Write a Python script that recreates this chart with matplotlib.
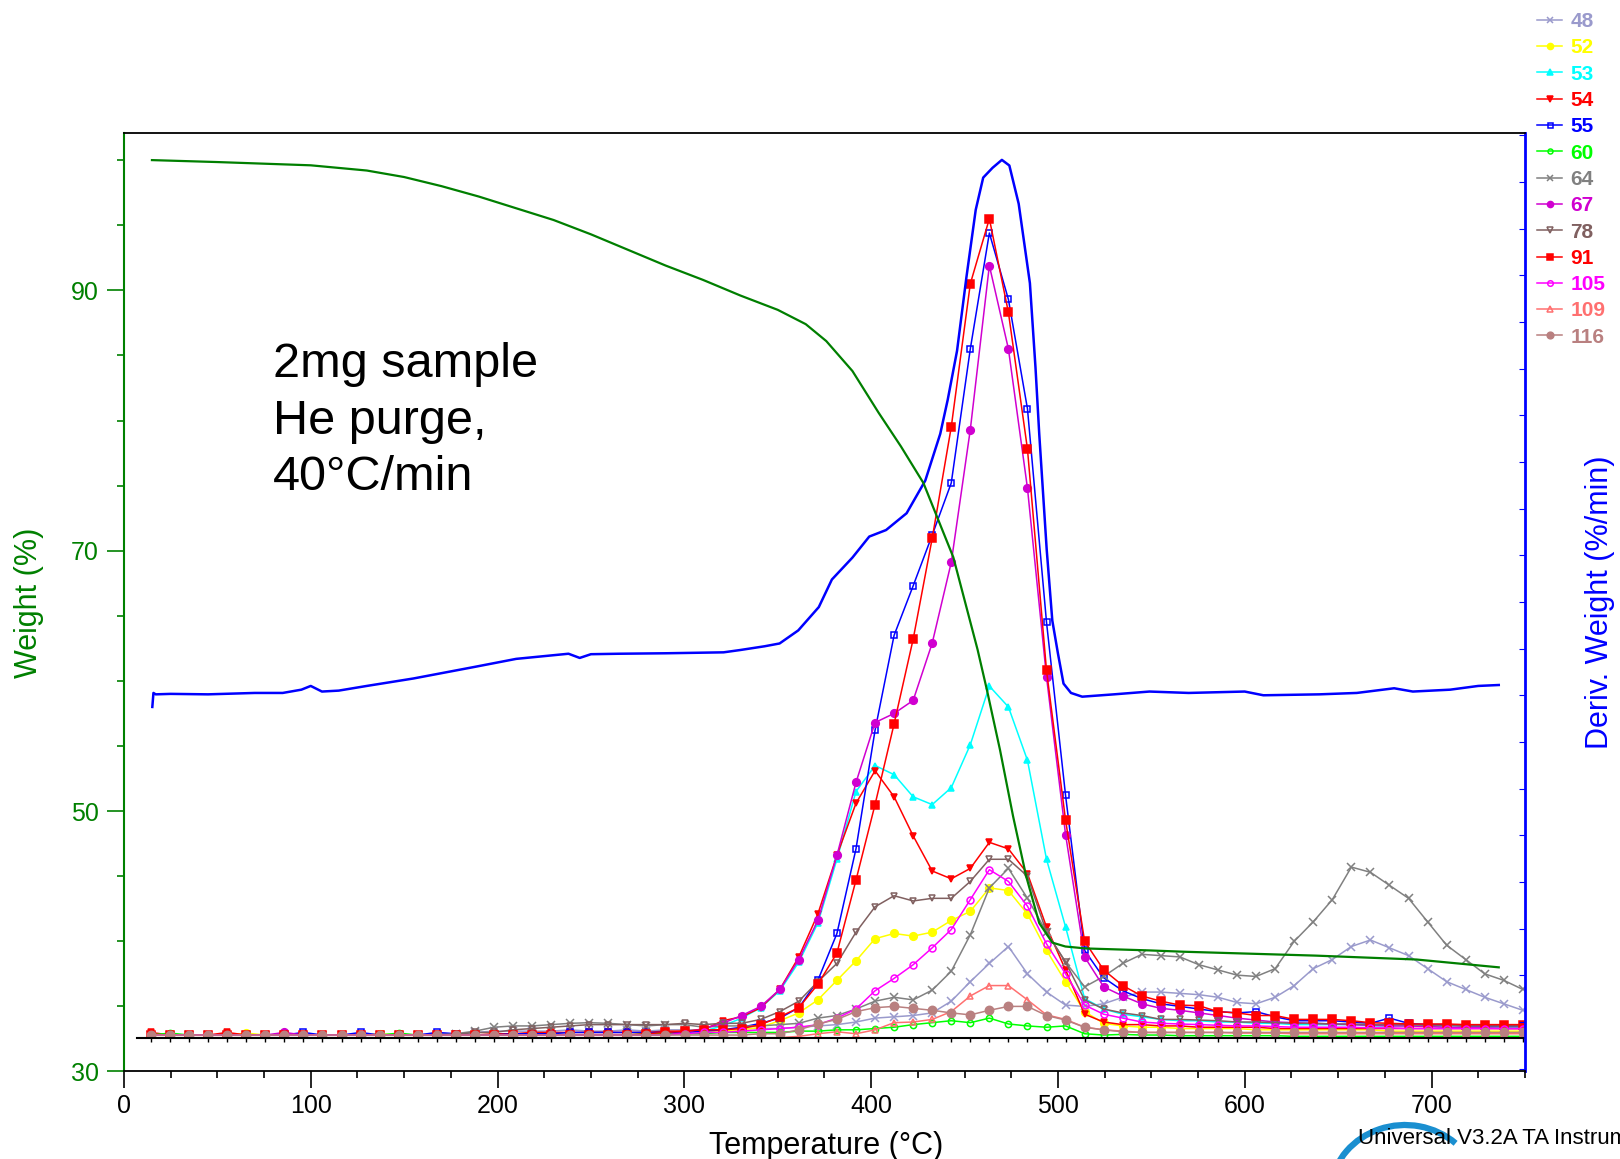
# TGA + MS overlay, 2 mg sample, He purge, 40 C/min
import matplotlib
matplotlib.use("Agg")
import matplotlib.pyplot as plt
from matplotlib.ticker import MultipleLocator
from matplotlib.patches import Arc

plt.rcParams['font.family'] = ['Liberation Sans', 'DejaVu Sans']

# weight curve (%)
temp_w = [15, 50, 100, 130, 150, 170, 190, 210, 230, 250, 270, 290, 310, 330, 350, 365,
          376, 390, 404, 416, 428, 444, 457, 462, 469, 476, 483, 490, 497, 504, 515,
          549, 567, 638, 692, 736]
weight = [100.0, 99.85, 99.6, 99.2, 98.7, 98.0, 97.2, 96.3, 95.4, 94.3, 93.1, 91.9, 90.8, 89.6, 88.5, 87.4,
          86.1, 83.8, 80.6, 78.0, 75.2, 69.5, 62.4, 59.3, 54.7, 49.6, 45.0, 41.4, 39.9, 39.6, 39.45,
          39.3, 39.2, 38.9, 38.6, 38.0]

# derivative weight (%/min)
temp_d = [15.2, 15.8, 17.0, 25, 45, 70, 85, 95, 100, 106, 115, 130, 155, 188, 210, 238, 244, 250, 265, 290,
          321, 330, 343, 351, 361, 372, 379, 390, 399, 408, 419, 429, 437, 441, 446, 451, 456, 460, 465, 470,
          474, 479, 485, 488, 490, 494, 497, 500, 503, 507, 513, 530, 549, 570, 600, 610, 640, 660, 680, 690,
          710, 725, 736]
deriv = [-0.25, 0.05, 0.02, 0.03, 0.02, 0.05, 0.05, 0.12, 0.2, 0.08, 0.1, 0.2, 0.36, 0.61, 0.78, 0.89, 0.8, 0.88, 0.89, 0.9,
         0.92, 0.97, 1.05, 1.11, 1.39, 1.89, 2.48, 2.95, 3.40, 3.54, 3.90, 4.60, 5.60, 6.33, 7.38, 8.95, 10.40, 11.09, 11.3, 11.47,
         11.35, 10.53, 8.83, 7.02, 5.60, 3.12, 1.6, 0.9, 0.25, 0.05, -0.03, 0.02, 0.08, 0.05, 0.08, 0.0, 0.02, 0.05, 0.15, 0.08,
         0.12, 0.2, 0.22]

# mass spec scans (temperature of each scan)
temp_ms = [14.5, 24.7, 34.9, 45.1, 55.3, 65.5, 75.7, 85.9, 96.1, 106.3,
           116.5, 126.7, 136.9, 147.1, 157.3, 167.5, 177.7, 187.9, 198.1, 208.3,
           218.5, 228.7, 238.9, 249.1, 259.3, 269.5, 279.7, 289.9, 300.1, 310.3,
           320.5, 330.7, 340.9, 351.1, 361.3, 371.5, 381.7, 391.9, 402.1, 412.3,
           422.5, 432.7, 442.9, 453.1, 463.3, 473.5, 483.7, 493.9, 504.1, 514.3,
           524.5, 534.7, 544.9, 555.1, 565.3, 575.5, 585.7, 595.9, 606.1, 616.3,
           626.5, 636.7, 646.9, 657.1, 667.3, 677.5, 687.7, 697.9, 708.1, 718.3,
           728.5, 738.7, 748.9]
ms_start = 7       # MS trace axis starts here (deg C)
ms_base = 32.6     # MS baseline level, same scale as weight axis

ms48 = [32.8, 32.8, 32.8, 32.8, 32.8, 32.8, 32.8, 32.8, 32.8, 32.8,
        32.8, 32.8, 32.8, 32.8, 32.8, 32.9, 32.9, 33.0, 33.1, 33.1,
        33.1, 33.1, 33.2, 33.1, 33.1, 33.2, 33.1, 33.2, 33.2, 33.2,
        33.2, 33.3, 33.3, 33.3, 33.4, 33.5, 33.6, 33.8, 34.1, 34.2,
        34.3, 34.5, 35.4, 36.9, 38.3, 39.6, 37.5, 36.1, 35.1, 35.0,
        35.2, 35.7, 36.1, 36.1, 36.0, 35.9, 35.7, 35.3, 35.2, 35.7,
        36.6, 37.9, 38.6, 39.6, 40.1, 39.5, 38.9, 37.9, 36.9, 36.3,
        35.7, 35.2, 34.7]
ms52 = [32.8, 32.8, 32.8, 32.8, 32.8, 32.95, 32.8, 32.8, 32.8, 32.8,
        32.8, 32.8, 32.9, 32.8, 32.8, 32.8, 32.8, 32.8, 32.8, 32.8,
        32.8, 32.8, 32.8, 32.8, 32.8, 32.8, 32.8, 32.9, 32.9, 33.0,
        33.1, 33.2, 33.4, 33.9, 34.5, 35.5, 37.0, 38.5, 40.2, 40.6,
        40.4, 40.7, 41.6, 42.3, 44.1, 43.9, 42.1, 39.3, 36.9, 34.6,
        33.7, 33.5, 33.4, 33.4, 33.3, 33.3, 33.3, 33.3, 33.2, 33.2,
        33.2, 33.2, 33.2, 33.2, 33.2, 33.1, 33.1, 33.1, 33.1, 33.1,
        33.1, 33.1, 33.1]
ms53 = [32.8, 32.8, 32.8, 32.8, 32.8, 32.8, 32.8, 32.8, 32.8, 32.8,
        32.8, 32.8, 32.8, 32.8, 32.8, 32.8, 32.8, 32.8, 32.8, 32.8,
        32.8, 32.8, 32.8, 32.8, 32.8, 32.8, 32.8, 32.9, 33.0, 33.1,
        33.5, 34.1, 34.9, 36.2, 38.4, 41.4, 46.3, 51.5, 53.5, 52.8,
        51.1, 50.5, 51.8, 55.1, 59.6, 58.0, 53.9, 46.3, 41.1, 35.6,
        34.8, 34.4, 34.2, 34.0, 33.9, 33.9, 33.8, 33.8, 33.7, 33.7,
        33.6, 33.6, 33.6, 33.6, 33.5, 33.5, 33.5, 33.5, 33.4, 33.4,
        33.4, 33.4, 33.4]
ms54 = [33.0, 32.8, 32.8, 32.8, 33.0, 32.8, 32.8, 32.8, 32.8, 32.8,
        32.8, 32.8, 32.8, 32.8, 32.8, 32.8, 32.8, 32.8, 32.9, 32.9,
        33.0, 33.0, 33.0, 33.0, 33.0, 33.0, 33.0, 33.1, 33.1, 33.2,
        33.9, 34.2, 34.9, 36.3, 38.8, 42.1, 46.6, 50.6, 53.1, 51.1,
        48.1, 45.4, 44.8, 45.6, 47.6, 47.1, 45.2, 41.1, 37.8, 34.4,
        33.8, 33.6, 33.6, 33.5, 33.5, 33.4, 33.4, 33.4, 33.4, 33.3,
        33.3, 33.3, 33.3, 33.3, 33.3, 33.3, 33.3, 33.3, 33.3, 33.3,
        33.3, 33.3, 33.3]
ms55 = [32.8, 32.8, 32.8, 32.8, 32.8, 32.8, 32.8, 32.8, 33.0, 32.8,
        32.8, 33.0, 32.8, 32.8, 32.8, 33.0, 32.9, 32.8, 32.8, 32.9,
        32.9, 32.9, 33.0, 33.0, 33.0, 33.0, 33.0, 33.0, 33.0, 33.1,
        33.2, 33.4, 33.7, 34.1, 34.9, 37.0, 40.6, 47.1, 56.2, 63.5,
        67.3, 71.2, 75.2, 85.5, 94.4, 89.3, 80.9, 64.5, 51.2, 39.3,
        37.2, 36.2, 35.6, 35.2, 35.0, 34.8, 34.6, 34.5, 34.6, 34.2,
        33.9, 33.9, 33.9, 33.8, 33.7, 34.1, 33.7, 33.6, 33.6, 33.5,
        33.5, 33.5, 33.5]
ms60 = [32.8, 32.95, 32.8, 32.8, 32.8, 32.8, 32.8, 32.8, 32.8, 32.8,
        32.8, 32.8, 32.8, 32.95, 32.8, 32.8, 32.8, 32.8, 32.8, 32.8,
        32.8, 32.8, 32.8, 32.8, 32.8, 32.8, 32.9, 32.9, 32.9, 32.9,
        33.0, 33.0, 33.0, 33.0, 33.1, 33.1, 33.2, 33.2, 33.3, 33.4,
        33.6, 33.75, 33.9, 33.75, 34.1, 33.65, 33.5, 33.4, 33.5, 32.9,
        32.8, 32.85, 32.8, 32.8, 32.75, 32.75, 32.75, 32.75, 32.75, 32.75,
        32.7, 32.7, 32.7, 32.7, 32.7, 32.7, 32.7, 32.7, 32.7, 32.7,
        32.7, 32.7, 32.7]
ms64 = [32.8, 32.8, 32.8, 32.8, 32.8, 32.8, 32.8, 32.8, 32.8, 32.8,
        32.8, 32.8, 32.8, 32.8, 32.8, 32.8, 32.9, 33.1, 33.4, 33.5,
        33.5, 33.6, 33.7, 33.75, 33.7, 33.6, 33.5, 33.6, 33.6, 33.4,
        33.5, 33.5, 33.5, 33.6, 33.7, 34.1, 34.3, 34.8, 35.4, 35.7,
        35.5, 36.25, 37.7, 40.5, 44.1, 45.6, 43.3, 40.7, 38.4, 36.5,
        37.3, 38.3, 39.0, 38.9, 38.8, 38.2, 37.8, 37.4, 37.3, 37.9,
        40.0, 41.5, 43.2, 45.7, 45.3, 44.3, 43.3, 41.5, 39.7, 38.6,
        37.5, 37.0, 36.3]
ms67 = [32.8, 32.8, 32.8, 32.8, 32.8, 32.8, 32.8, 33.0, 32.8, 32.8,
        32.8, 32.8, 32.8, 32.8, 32.8, 32.8, 32.8, 32.8, 32.8, 32.8,
        32.8, 32.8, 32.8, 32.8, 32.8, 32.8, 32.8, 32.8, 33.0, 33.3,
        33.7, 34.3, 35.0, 36.3, 38.6, 41.6, 46.6, 52.2, 56.8, 57.5,
        58.5, 62.9, 69.1, 79.3, 91.9, 85.5, 74.8, 60.3, 48.2, 38.8,
        36.5, 35.8, 35.2, 34.85, 34.7, 34.5, 34.3, 34.1, 33.95, 33.8,
        33.75, 33.7, 33.65, 33.6, 33.55, 33.5, 33.5, 33.45, 33.4, 33.4,
        33.35, 33.3, 33.3]
ms78 = [32.8, 32.8, 32.8, 32.8, 32.8, 32.8, 32.8, 32.8, 32.8, 32.8,
        32.8, 32.8, 32.8, 32.8, 32.8, 32.8, 32.85, 33.0, 33.0, 33.2,
        33.3, 33.4, 33.5, 33.6, 33.6, 33.6, 33.6, 33.6, 33.7, 33.6,
        33.7, 33.7, 34.0, 34.6, 35.4, 36.9, 38.3, 40.7, 42.65, 43.5,
        43.1, 43.3, 43.3, 44.6, 46.3, 46.3, 45.0, 40.7, 38.4, 35.5,
        34.8, 34.5, 34.3, 34.0, 34.0, 33.95, 33.9, 33.8, 33.8, 33.75,
        33.7, 33.7, 33.65, 33.65, 33.6, 33.6, 33.6, 33.55, 33.55, 33.5,
        33.5, 33.5, 33.5]
ms91 = [32.8, 32.8, 32.8, 32.8, 32.8, 32.8, 32.8, 32.8, 32.8, 32.8,
        32.8, 32.8, 32.8, 32.8, 32.8, 32.8, 32.8, 32.8, 32.8, 32.8,
        32.8, 32.8, 32.8, 32.8, 32.8, 32.8, 32.9, 33.0, 33.1, 33.2,
        33.2, 33.3, 33.6, 34.2, 34.9, 36.7, 39.1, 44.7, 50.5, 56.7,
        63.2, 70.95, 79.5, 90.5, 95.5, 88.3, 77.8, 60.8, 49.3, 40.0,
        37.8, 36.6, 35.8, 35.4, 35.1, 35.05, 34.6, 34.5, 34.3, 34.3,
        34.0, 34.0, 34.0, 33.9, 33.75, 33.7, 33.65, 33.65, 33.65, 33.6,
        33.6, 33.6, 33.6]
ms105 = [32.8, 32.8, 32.8, 32.8, 32.8, 32.8, 32.8, 32.8, 32.8, 32.8,
         32.8, 32.8, 32.8, 32.8, 32.8, 32.8, 32.8, 32.8, 32.8, 32.8,
         32.8, 32.8, 32.8, 32.8, 32.8, 32.8, 32.8, 32.8, 32.9, 33.0,
         33.0, 33.1, 33.2, 33.3, 33.4, 33.6, 34.1, 34.8, 36.2, 37.15,
         38.2, 39.5, 40.9, 43.2, 45.5, 44.6, 42.7, 39.8, 37.5, 35.1,
         34.4, 34.1, 33.8, 33.7, 33.65, 33.6, 33.55, 33.5, 33.5, 33.45,
         33.4, 33.4, 33.4, 33.4, 33.35, 33.35, 33.3, 33.3, 33.3, 33.3,
         33.3, 33.3, 33.3]
ms109 = [32.6, 32.6, 32.6, 32.6, 32.6, 32.6, 32.6, 32.6, 32.6, 32.6,
         32.6, 32.6, 32.6, 32.6, 32.6, 32.6, 32.6, 32.6, 32.6, 32.6,
         32.6, 32.6, 32.6, 32.6, 32.6, 32.6, 32.6, 32.6, 32.6, 32.6,
         32.6, 32.6, 32.6, 32.6, 32.7, 32.9, 33.05, 32.9, 33.2, 33.75,
         33.8, 34.0, 34.6, 35.8, 36.6, 36.6, 35.5, 34.35, 34.0, 33.4,
         33.2, 33.1, 33.0, 33.0, 33.0, 33.0, 33.0, 32.95, 32.95, 32.95,
         32.9, 32.9, 32.9, 32.9, 32.9, 32.9, 32.9, 32.9, 32.9, 32.9,
         32.9, 32.9, 32.9]
ms116 = [32.8, 32.8, 32.8, 32.8, 32.8, 32.8, 32.8, 32.8, 32.8, 32.8,
         32.8, 32.8, 32.8, 32.8, 32.8, 32.8, 32.8, 32.8, 32.8, 32.8,
         32.8, 32.8, 32.8, 32.8, 32.8, 32.8, 32.8, 32.8, 32.8, 32.8,
         32.8, 32.8, 32.9, 32.9, 33.2, 33.65, 34.0, 34.6, 34.9, 35.0,
         34.85, 34.7, 34.5, 34.35, 34.7, 35.0, 35.0, 34.3, 33.95, 33.4,
         33.2, 33.05, 33.0, 33.0, 33.0, 33.0, 33.0, 33.0, 33.0, 33.0,
         33.0, 33.0, 33.0, 33.0, 33.0, 33.0, 33.0, 33.0, 33.0, 33.0,
         33.0, 33.0, 33.0]

# label, values, colour, marker, filled, marker size
ms_series = [
    ("48", ms48, "#9a9acc", "x", True, 6),
    ("52", ms52, "#ffff00", "o", True, 5.5),
    ("53", ms53, "#00ffff", "^", True, 5),
    ("54", ms54, "#ff0000", "v", True, 5),
    ("55", ms55, "#0000ff", "s", False, 4.5),
    ("60", ms60, "#00ff00", "o", False, 4.5),
    ("64", ms64, "#808080", "x", True, 6),
    ("67", ms67, "#d000d0", "o", True, 5.5),
    ("78", ms78, "#806060", "v", False, 5),
    ("91", ms91, "#ff0000", "s", True, 6),
    ("105", ms105, "#ff00ff", "o", False, 5),
    ("109", ms109, "#ff7070", "^", False, 5),
    ("116", ms116, "#b98080", "o", True, 6),
]

# main axes box (figure fractions)
ax_l, ax_b, ax_w, ax_h = 0.0765, 0.0755, 0.8648, 0.8095
x_max = 750
w_min, w_max = 30, 102.06

fig = plt.figure(figsize=(16.2, 11.59), dpi=100)
ax = fig.add_axes([ax_l, ax_b, ax_w, ax_h])
ax2 = ax.twinx()   # deriv weight

# MS traces get their own box, starting at their own baseline
ms_l = ax_l + ax_w * ms_start / x_max
ms_b = ax_b + ax_h * (ms_base - w_min) / (w_max - w_min)
ax3 = fig.add_axes([ms_l, ms_b, ax_l + ax_w - ms_l, ax_b + ax_h - ms_b])

ax.set_zorder(3)
ax2.set_zorder(2)
ax3.set_zorder(1)
for a in (ax, ax2, ax3):
    a.patch.set_visible(False)

# MS curves
handles = []
for lab, vals, col, mk, filled, size in ms_series:
    ln, = ax3.plot(temp_ms, vals, color=col, lw=1.1, marker=mk, ms=size,
                   mfc=col if filled else "none", mec=col, mew=1.1, label=lab)
    handles.append(ln)
ax3.set_xlim(ms_start, x_max)
ax3.set_ylim(ms_base, w_max)
for s in ("left", "right", "top"):
    ax3.spines[s].set_visible(False)
ax3.spines["bottom"].set_linewidth(1.5)
ax3.set_xticks(temp_ms)
ax3.set_yticks([])
ax3.tick_params(axis="x", direction="out", length=3, width=1, labelbottom=False)

# derivative
ax2.plot(temp_d, deriv, color="#0000ff", lw=1.8)
ax2.set_ylim(-8.06, 12.04)
ax2.yaxis.set_major_locator(MultipleLocator(1))
ax2.tick_params(axis="y", direction="in", length=4, color="#0000ff", labelright=False)
for s in ("left", "top", "bottom"):
    ax2.spines[s].set_visible(False)
ax2.spines["right"].set_color("#0000ff")
ax2.spines["right"].set_linewidth(2)
ax2.set_ylabel("Deriv. Weight (%/min)", color="#0000ff", fontsize=22)
ax2.yaxis.set_label_coords(1.0432, 0.5)

# weight
ax.plot(temp_w, weight, color="#007f00", lw=1.6)
ax.set_xlim(0, x_max)
ax.set_ylim(w_min, w_max)
ax.set_xticks(range(0, 701, 100))
ax.xaxis.set_minor_locator(MultipleLocator(25))
ax.set_yticks([30, 50, 70, 90])
ax.yaxis.set_minor_locator(MultipleLocator(5))
ax.tick_params(axis="x", which="major", length=12, width=1.2, labelsize=18, pad=4)
ax.tick_params(axis="x", which="minor", length=5, width=1.2)
ax.tick_params(axis="y", which="major", length=12, width=1.2, labelsize=18, pad=6,
               color="#008000", labelcolor="#008000")
ax.tick_params(axis="y", which="minor", length=5, width=1.2, color="#008000")
ax.tick_params(top=False, right=False, which="both")
ax.spines["right"].set_visible(False)
ax.spines["left"].set_color("#008000")
ax.spines["left"].set_linewidth(1.5)
ax.spines["top"].set_linewidth(1.3)
ax.spines["bottom"].set_linewidth(1.3)
ax.set_xlabel("Temperature (°C)", fontsize=22)
ax.xaxis.set_label_coords(0.5014, -0.063)
ax.set_ylabel("Weight (%)", color="#008000", fontsize=22)
ax.yaxis.set_label_coords(-0.057, 0.5)

ax.text(79.6, 86.0, "2mg sample\nHe purge,\n40°C/min", fontsize=35, va="top", ha="left",
        linespacing=1.32)

fig.legend(handles=handles, loc="upper left", bbox_to_anchor=(0.9488, 0.9895),
           frameon=False, labelcolor="linecolor", prop={"weight": "bold", "size": 15},
           handlelength=1.2, handletextpad=0.4, labelspacing=0.35,
           borderpad=0, borderaxespad=0, markerscale=0.8)

# instrument footer
fig.patches.append(Arc((1405 / 1620, 1 - 1195 / 1159), 150 / 1620, 140 / 1159,
                       theta1=55, theta2=170, lw=4.5, color="#1a8fd0",
                       transform=fig.transFigure, figure=fig))
fig.text(1358 / 1620, 1 - 1144 / 1159, "Universal V3.2A TA Instruments", fontsize=16,
         va="baseline", ha="left")

fig.savefig("out.png", dpi=100)
